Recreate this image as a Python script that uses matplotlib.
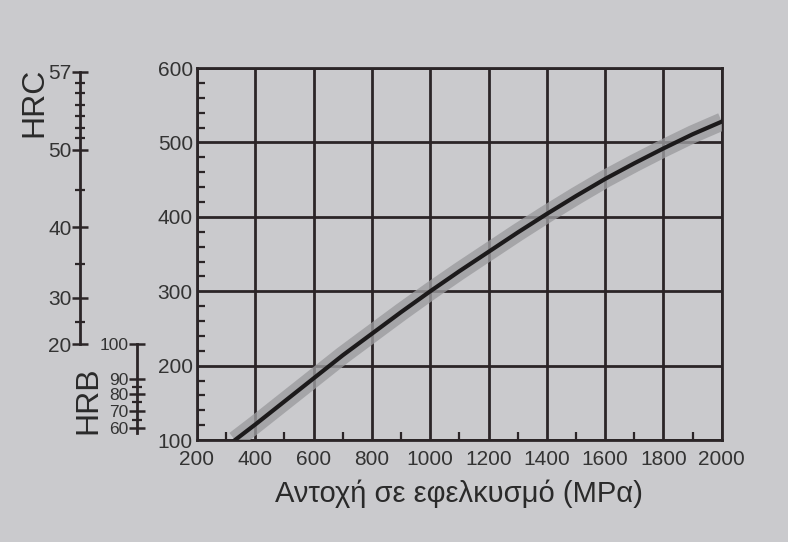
import matplotlib.pyplot as plt
from matplotlib.ticker import MultipleLocator

plt.rcParams['font.family'] = ['Liberation Sans', 'DejaVu Sans']

# Brinell hardness vs tensile strength
strength = [330, 400, 500, 600, 700, 800, 900, 1000, 1100, 1200, 1300, 1400, 1500, 1600, 1700, 1800, 1900, 2000]
brinell = [100, 121, 152, 183, 214, 243, 272, 300, 327, 353, 379, 404, 428, 451, 472, 492, 511, 528]

# HRC scale: positions on the Brinell axis
hrc_major = [20, 30, 40, 50, 57]
hrc_major_hb = [229, 291, 386, 490, 595]
hrc_minor_hb = [259, 337, 436, 506, 520, 535, 550, 566, 580]

# HRB scale
hrb_major = [100, 90, 80, 70, 60]
hrb_major_hb = [229, 182, 162, 139, 116]
hrb_minor_hb = [172, 151, 127]
hrb_end = 110

bg = '#cacacd'
ink = '#2b2527'

fig = plt.figure(figsize=(7.88, 5.42), dpi=100)
fig.patch.set_facecolor(bg)

bottom, top = 0.188, 0.8745
ax = fig.add_axes([0.250, bottom, 0.666, top - bottom])
ax.set_facecolor(bg)
ax.plot(strength, brinell, color='#9c9c9f', lw=13, alpha=0.8, solid_capstyle='butt', zorder=3)
ax.plot(strength, brinell, color='#1c1a1b', lw=3, zorder=4)
ax.set_xlim(200, 2000)
ax.set_ylim(100, 600)
ax.xaxis.set_major_locator(MultipleLocator(200))
ax.xaxis.set_minor_locator(MultipleLocator(100))
ax.yaxis.set_major_locator(MultipleLocator(100))
ax.yaxis.set_minor_locator(MultipleLocator(20))
ax.grid(True, which='major', color=ink, lw=2)
ax.tick_params(which='major', length=0, labelsize=15, colors='#333333')
ax.tick_params(axis='x', which='major', pad=7)
ax.tick_params(axis='y', which='major', pad=3)
ax.tick_params(which='minor', direction='in', length=6, width=1.6, color=ink)
for s in ax.spines.values():
    s.set_color(ink)
    s.set_linewidth(2)
ax.set_xlabel('Αντοχή σε εφελκυσμό (MPα)', fontsize=21, color='#2a2a2a', labelpad=8)


def side_scale(x, ticks_hb, labels, minor_hb, lo, hi, size):
    a = fig.add_axes([x, bottom, 0.0001, top - bottom])
    a.set_ylim(100, 600)
    a.set_xticks([])
    for k in ['top', 'right', 'bottom']:
        a.spines[k].set_visible(False)
    a.spines['left'].set_bounds(lo, hi)
    a.spines['left'].set_color(ink)
    a.spines['left'].set_linewidth(2)
    a.patch.set_visible(False)
    a.set_yticks(ticks_hb)
    a.set_yticklabels([str(v) for v in labels])
    a.set_yticks(minor_hb, minor=True)
    a.tick_params(which='major', direction='inout', length=12, width=1.8,
                  color=ink, labelsize=size, labelcolor='#333333', pad=0)
    a.tick_params(which='minor', direction='inout', length=7, width=1.6, color=ink)
    return a


side_scale(0.1015, hrc_major_hb, hrc_major, hrc_minor_hb, 229, 595, 15)
side_scale(0.174, hrb_major_hb, hrb_major, hrb_minor_hb, hrb_end, 229, 12.5)

fig.text(0.044, 0.812, 'HRC', rotation=90, fontsize=23, color='#2a2a2a', ha='center', va='center')
fig.text(0.112, 0.262, 'HRB', rotation=90, fontsize=23, color='#2a2a2a', ha='center', va='center')

fig.savefig('out.png', dpi=100, facecolor=bg)
